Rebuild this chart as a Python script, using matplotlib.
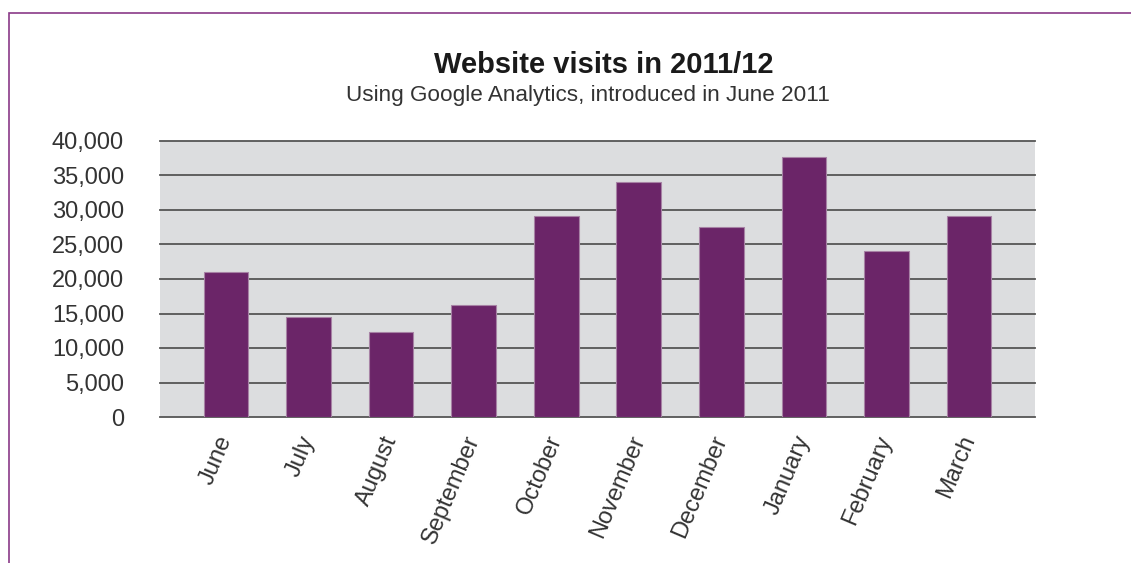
import matplotlib
matplotlib.use("Agg")
import matplotlib.pyplot as plt
from matplotlib.patches import Rectangle
from matplotlib.ticker import FuncFormatter

months = ["June", "July", "August", "September", "October", "November",
          "December", "January", "February", "March"]
visits = [20960, 14520, 12340, 16220, 29170, 34030, 27570, 37620, 24080, 29170]
y_ticks = [0, 5000, 10000, 15000, 20000, 25000, 30000, 35000, 40000]

title = "Website visits in 2011/12"
subtitle = "Using Google Analytics, introduced in June 2011"

plt.rcParams['font.family'] = ['Liberation Sans', 'DejaVu Sans']

W, H = 1131, 563
fig = plt.figure(figsize=(W / 100, H / 100), dpi=100)
fig.patch.set_facecolor("white")

ax = fig.add_axes([160 / W, 1 - 417 / H, (1035 - 160) / W, (417 - 141) / H])
ax.set_facecolor("#dcdddf")

x = list(range(len(months)))
ax.bar(x, visits, width=0.54, color="#6b2568", edgecolor="#a782a5",
       linewidth=0.8, zorder=3)

ax.set_xlim(-0.8, 9.8)
ax.set_ylim(0, 40000)
ax.set_yticks(y_ticks)
ax.yaxis.set_major_formatter(FuncFormatter(lambda v, p: f"{int(v):,}"))
ax.set_xticks(x)
ax.set_xticklabels(months, rotation=67, ha="right", va="center",
                   rotation_mode="anchor")

for v in y_ticks:
    ax.axhline(v, color="#555555", linewidth=1.3, zorder=2, clip_on=False)

for s in ax.spines.values():
    s.set_visible(False)

ax.tick_params(axis="both", length=0, labelsize=17, colors="#333333")
ax.tick_params(axis="y", pad=26)
ax.tick_params(axis="x", pad=14)

fig.text(604 / W, 1 - 73 / H, title, ha="center", va="baseline",
         fontsize=21, fontweight="bold", color="#1a1a1a")
fig.text(588 / W, 1 - 101 / H, subtitle, ha="center", va="baseline",
         fontsize=16.2, color="#333333")

# outer purple frame
frame = Rectangle((8.5 / W, -0.1), 1.2, 1 - 13.5 / H + 0.1,
                  transform=fig.transFigure, fill=False,
                  edgecolor="#8a3a88", linewidth=1.2, clip_on=False)
fig.patches.append(frame)

fig.savefig("out.png", dpi=100, facecolor="white")
